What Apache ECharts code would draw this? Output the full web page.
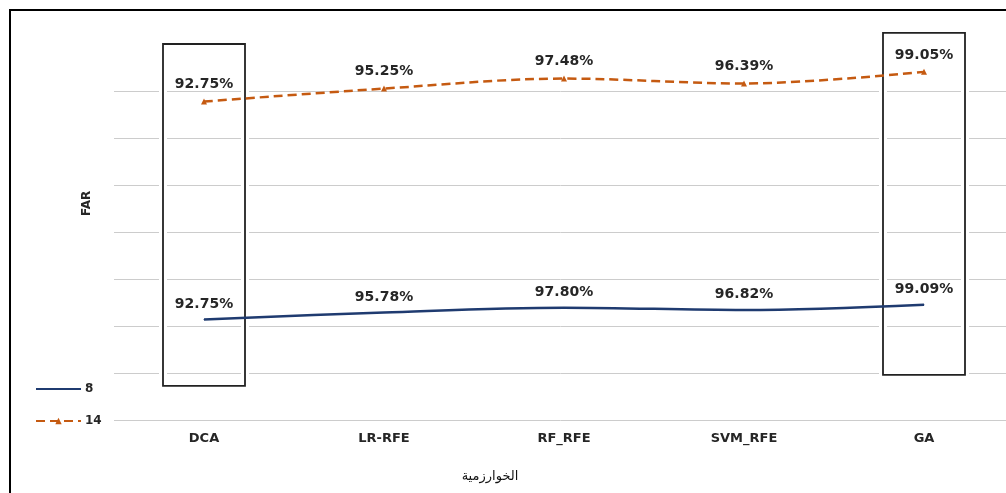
<!DOCTYPE html>
<html>
<head>
<meta charset="utf-8">
<script src="https://cdn.jsdelivr.net/npm/echarts@6/dist/echarts.min.js"></script>
<style>
html,body{margin:0;padding:0;background:#fff;}
#chart{width:1006px;height:493px;}
</style>
</head>
<body>
<div id="chart"></div>
<script>
var categories = ['DCA', 'LR-RFE', 'RF_RFE', 'SVM_RFE', 'GA'];
var series8 = [92.75, 95.78, 97.80, 96.82, 99.09];
var series14 = [92.75, 95.25, 97.48, 96.39, 99.05];
var seriesNames = ['8', '14'];
var yAxisTitle = 'FAR';
var xAxisTitle = 'الخوارزمية';
// highlight boxes (category, upper / lower value on the stacked axis)
var boxCats = ['DCA', 'GA'];
var boxTop = [210, 214.7];
var boxBottom = [64.5, 69.2];

var NAVY = '#1F3B70';
var ORANGE = '#C55A11';
var TXT = '#262626';
var FONT = 'DejaVu Sans';

var chart = echarts.init(document.getElementById('chart'), null, {renderer: 'canvas'});

function pctLabel(p) { return p.value.toFixed(2) + '%'; }

var option = {
  backgroundColor: '#fff',
  animation: false,
  grid: {left: 114, right: -8, top: 91, bottom: 73, containLabel: false, outerBoundsMode: 'none'},
  legend: {
    orient: 'vertical',
    left: 35,
    top: 383,
    padding: 0,
    itemWidth: 45,
    itemHeight: 8,
    itemGap: 20,
    data: [
      {name: seriesNames[0], itemStyle: {opacity: 0}},
      {name: seriesNames[1]}
    ],
    textStyle: {fontFamily: FONT, fontWeight: 'bold', fontSize: 12, color: TXT, padding: [0, 0, 0, -1]}
  },
  xAxis: {
    type: 'category',
    data: categories,
    boundaryGap: true,
    axisLine: {show: false},
    axisTick: {show: false},
    axisLabel: {fontFamily: FONT, fontWeight: 'bold', fontSize: 13, color: TXT, margin: 12}
  },
  yAxis: {
    type: 'value',
    min: 50,
    max: 190,
    interval: 20,
    axisLine: {show: false},
    axisTick: {show: false},
    axisLabel: {show: false},
    splitLine: {lineStyle: {color: '#cccccc', width: 1}}
  },
  series: [
    {
      name: seriesNames[0],
      type: 'line',
      stack: 'total',
      data: series8,
      clip: false,
      smooth: 0.35,
      symbol: 'circle',
      symbolSize: 1,
      showSymbol: true,
      itemStyle: {color: NAVY},
      lineStyle: {color: NAVY, width: 2.5},
      label: {show: true, position: 'top', distance: 8, formatter: pctLabel,
              fontFamily: FONT, fontWeight: 'bold', fontSize: 14, color: TXT},
      z: 3
    },
    {
      name: seriesNames[1],
      type: 'line',
      stack: 'total',
      data: series14,
      clip: false,
      smooth: 0.35,
      symbol: 'triangle',
      symbolSize: 6,
      showSymbol: true,
      itemStyle: {color: ORANGE},
      lineStyle: {color: ORANGE, width: 2.5, type: [9, 5]},
      label: {show: true, position: 'top', distance: 7, formatter: pctLabel,
              fontFamily: FONT, fontWeight: 'bold', fontSize: 14, color: TXT},
      z: 3
    }
  ]
};
chart.setOption(option);

function addGraphics() {
  var els = [];
  // outer frame
  els.push({type: 'rect', shape: {x: 10, y: 10, width: 1100, height: 600},
            style: {fill: null, stroke: '#000', lineWidth: 2}, z: 10, silent: true});
  for (var i = 0; i < boxCats.length; i++) {
    var cx = chart.convertToPixel({xAxisIndex: 0}, boxCats[i]);
    var yt = chart.convertToPixel({yAxisIndex: 0}, boxTop[i]);
    var yb = chart.convertToPixel({yAxisIndex: 0}, boxBottom[i]);
    var hw = 41;
    els.push({type: 'rect', shape: {x: cx - hw, y: yt, width: 2 * hw, height: yb - yt},
              style: {fill: null, stroke: '#fff', lineWidth: 8}, z: 1, silent: true});
    els.push({type: 'rect', shape: {x: cx - hw, y: yt, width: 2 * hw, height: yb - yt},
              style: {fill: null, stroke: '#222', lineWidth: 1.8}, z: 1, silent: true});
  }
  els.push({type: 'text', x: 81, y: 216, rotation: Math.PI / 2,
            style: {text: yAxisTitle, fontFamily: FONT, fontWeight: 'bold', fontSize: 12, fill: TXT}, z: 5});
  els.push({type: 'text', x: 490, y: 477,
            style: {text: xAxisTitle, fontFamily: FONT, fontSize: 13, fill: '#111', align: 'center', verticalAlign: 'middle'}, z: 5});
  chart.setOption({graphic: {elements: els}});
}
addGraphics();
</script>
</body>
</html>
